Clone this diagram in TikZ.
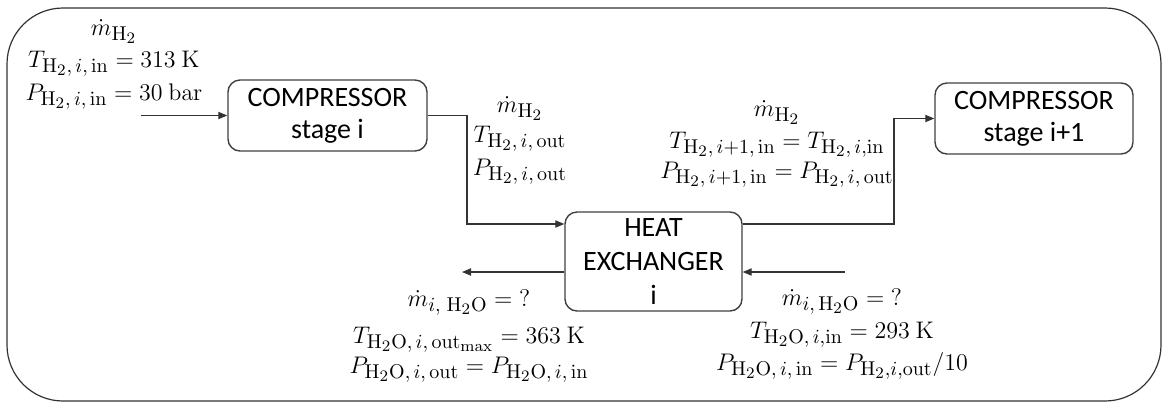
\documentclass[tikz,border=0pt]{standalone}
\usepackage[no-math]{fontspec}
\setmainfont{Carlito}
\renewcommand\defaultscriptratio{.75}
\renewcommand\defaultscriptscriptratio{.6}
\usetikzlibrary{arrows.meta,calc}
\begin{document}
\begin{tikzpicture}[x=0.5pt,y=-0.5pt,
  box/.style={draw=black!75,line width=0.7pt,rounded corners=6pt,align=center,
    font=\fontsize{14}{16}\selectfont,inner sep=0pt},
  arr/.style={draw=black!80,line width=0.6pt,-{Triangle[length=4.5pt,width=3.6pt]}},
  eq/.style={anchor=base,inner sep=0pt,font=\fontsize{12.8}{15}\selectfont}]
\useasboundingbox (0,0) rectangle (1162,403);
% outer frame
\draw[black!80,line width=0.6pt,rounded corners=28pt] (7,8) rectangle (1161,401);
% boxes
\node[box,minimum width=99.5pt,minimum height=35.5pt] (c1) at (327.5,115.5) {COMPRESSOR\\stage i};
\node[box,minimum width=88.5pt,minimum height=49.5pt] (hx) at (653.5,261.5) {HEAT\\[1pt]EXCHANGER\\[1pt]i};
\node[box,minimum width=99pt,minimum height=35.5pt] (c2) at (1034,118.5) {COMPRESSOR\\stage i+1};
% coordinates
\coordinate (in) at (141,115.5);
\coordinate (j1) at (467,224);
\coordinate (j2) at (894,224);
\coordinate (wout) at (462,272);
\coordinate (win) at (845,272);
% connectors
\draw[arr] (in) -- (c1.west);
\draw[arr] (c1.east) -| (j1) -- (j1 -| hx.west);
\draw[arr] (j2 -| hx.east) -- (j2) |- (c2.west);
\draw[arr] (wout -| hx.west) -- (wout);
\draw[arr] (win) -- (win -| hx.east);
% top-left
\node[eq] (tl1) at (114,35) {$\dot m_{\mathrm{H_2}}$};
\node[eq] (tl2) at (114,67) {$T_{\mathrm{H_2},\,i,\,\mathrm{in}} = 313\ \mathrm{K}$};
\node[eq] (tl3) at (114,100) {$P_{\mathrm{H_2},\,i,\,\mathrm{in}} = 30\ \mathrm{bar}$};
% middle
\node[eq] (m1) at (520,112) {$\dot m_{\mathrm{H_2}}$};
\node[eq] (m2) at (520,142) {$T_{\mathrm{H_2},\,i,\,\mathrm{out}}$};
\node[eq] (m3) at (520,175) {$P_{\mathrm{H_2},\,i,\,\mathrm{out}}$};
% right
\node[eq] (r1) at (777,116) {$\dot m_{\mathrm{H_2}}$};
\node[eq] (r2) at (777,148) {$T_{\mathrm{H_2},\,i+1,\,\mathrm{in}} = T_{\mathrm{H_2},\,i,\mathrm{in}}$};
\node[eq] (r3) at (777,178) {$P_{\mathrm{H_2},\,i+1,\,\mathrm{in}} = P_{\mathrm{H_2},\,i,\,\mathrm{out}}$};
% bottom-left
\node[eq] (bl1) at (469,306) {$\dot m_{i,\ \mathrm{H_2O}} = \mathord{?}$};
\node[eq] (bl2) at (469,343) {$T_{\mathrm{H_2O},\,i,\,\mathrm{out}_{\mathrm{max}}} = 363\ \mathrm{K}$};
\node[eq] (bl3) at (469,373) {$P_{\mathrm{H_2O},\,i,\,\mathrm{out}} = P_{\mathrm{H_2O},\,i,\,\mathrm{in}}$};
% bottom-right
\node[eq] (br1) at (842,305) {$\dot m_{i,\,\mathrm{H_2O}} = \mathord{?}$};
\node[eq] (br2) at (842,338) {$T_{\mathrm{H_2O},\,i,\mathrm{in}} = 293\ \mathrm{K}$};
\node[eq] (br3) at (842,370) {$P_{\mathrm{H_2O},\,i,\,\mathrm{in}} = P_{\mathrm{H_2},i,\mathrm{out}}/10$};
\end{tikzpicture}
\end{document}
